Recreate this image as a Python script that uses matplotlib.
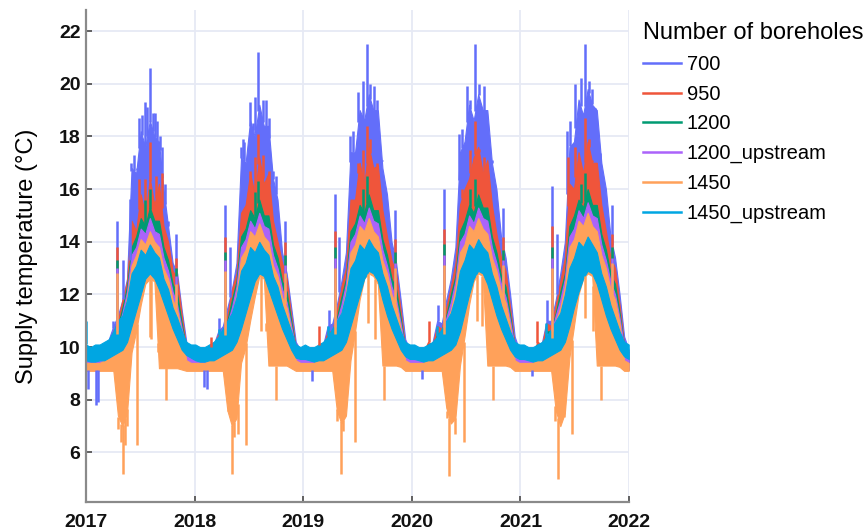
import numpy as np
import pandas as pd
import matplotlib
matplotlib.use("Agg")
import matplotlib.pyplot as plt
import matplotlib.dates as mdates
from matplotlib.lines import Line2D

plt.rcParams['font.family'] = ['Liberation Sans', 'DejaVu Sans']

# half-month steps, 24 per year, 2017-2021
dates = pd.date_range("2017-01-01", "2021-12-31", periods=120)

labels = ["700", "950", "1200", "1200_upstream", "1450", "1450_upstream"]
colors = ["#636EFA", "#EF553B", "#009B72", "#AB63FA", "#FFA15A", "#00A6E2"]

# lower envelope of 700 / 950 / 1200 / 1200_upstream (mostly hidden under the 1450 bands)
lo_inner = [
    [9.15, 9.15, 9.15, 9.15, 9.15, 9.2, 9.3, 9.5, 9.5, 9.8, 10.6, 11.3, 12.0, 12.7, 12.9, 12.8, 12.5, 11.8, 11.2, 10.8, 10.4, 9.8, 9.3, 9.15],
    [9.15, 9.15, 9.15, 9.15, 9.15, 9.2, 9.3, 9.5, 9.5, 9.8, 10.5, 11.3, 12.0, 12.6, 12.9, 12.8, 12.4, 11.8, 11.2, 10.8, 10.4, 9.8, 9.3, 9.15],
    [9.15, 9.15, 9.15, 9.15, 9.15, 9.2, 9.3, 9.5, 9.5, 9.8, 10.6, 11.4, 12.1, 12.7, 12.9, 12.9, 12.6, 11.9, 11.2, 10.8, 10.4, 9.8, 9.3, 9.15],
    [9.15, 9.15, 9.15, 9.15, 9.15, 9.2, 9.3, 9.5, 9.5, 9.8, 10.5, 11.3, 12.1, 12.7, 12.9, 12.9, 12.5, 11.9, 11.2, 10.8, 10.4, 9.8, 9.3, 9.15],
    [9.15, 9.15, 9.15, 9.15, 9.15, 9.2, 9.3, 9.5, 9.5, 9.8, 10.7, 11.5, 12.2, 12.7, 12.9, 12.9, 12.5, 11.9, 11.2, 10.8, 10.4, 9.8, 9.3, 9.15],
]

hi_700 = [
    [9.9, 9.9, 9.9, 9.9, 10.0, 10.3, 10.8, 11.2, 11.8, 12.6, 16.8, 16.6, 18.2, 17.6, 18.6, 18.0, 17.8, 16.0, 14.6, 13.2, 12.8, 11.4, 10.2, 9.9],
    [9.9, 9.9, 9.9, 10.0, 10.1, 10.6, 10.8, 11.5, 12.2, 13.2, 17.2, 17.0, 18.6, 18.0, 19.2, 18.4, 18.4, 16.4, 15.6, 13.6, 12.8, 11.5, 10.2, 9.9],
    [9.9, 9.9, 9.9, 10.0, 10.1, 10.8, 10.9, 11.6, 12.5, 13.6, 17.4, 17.4, 19.0, 18.6, 19.6, 19.0, 19.0, 16.8, 15.8, 14.0, 13.2, 11.8, 10.3, 9.9],
    [9.9, 9.9, 9.9, 10.0, 10.2, 11.0, 10.9, 11.8, 12.6, 13.8, 17.4, 17.8, 19.2, 18.6, 19.6, 19.0, 19.0, 17.0, 16.0, 14.2, 13.4, 12.0, 10.4, 9.9],
    [9.9, 9.9, 9.9, 10.0, 10.2, 11.0, 11.0, 11.8, 12.8, 14.0, 17.6, 17.8, 19.4, 18.8, 19.8, 19.2, 19.0, 17.0, 16.0, 14.2, 13.4, 12.0, 10.4, 9.9],
]
hi_950 = [
    [9.8, 9.8, 9.8, 9.9, 10.0, 10.2, 10.6, 11.0, 11.8, 12.5, 14.8, 14.4, 15.8, 15.0, 16.4, 15.4, 16.2, 14.6, 14.0, 12.9, 12.6, 11.2, 10.0, 9.8],
    [9.8, 9.8, 9.8, 10.0, 10.0, 10.5, 10.6, 11.2, 12.2, 12.8, 15.1, 15.4, 16.6, 15.8, 17.2, 16.2, 16.6, 14.8, 14.0, 13.2, 12.6, 11.2, 10.0, 9.8],
    [9.8, 9.8, 9.8, 10.1, 10.0, 10.6, 10.6, 11.4, 12.3, 13.0, 15.6, 15.6, 17.0, 16.2, 17.6, 16.8, 16.9, 15.2, 14.2, 13.3, 12.8, 11.4, 10.0, 9.8],
    [9.8, 9.8, 9.8, 10.2, 10.1, 10.8, 10.7, 11.5, 12.3, 13.2, 15.4, 16.0, 16.4, 17.2, 17.6, 16.6, 17.1, 15.4, 14.3, 13.4, 12.9, 11.5, 10.1, 9.8],
    [9.8, 9.8, 9.8, 10.2, 10.1, 10.9, 10.8, 11.6, 12.5, 13.4, 16.2, 16.0, 17.4, 16.6, 17.8, 17.0, 17.0, 15.4, 14.4, 13.4, 13.0, 11.6, 10.1, 9.8],
]
hi_1200 = [
    [9.8, 9.8, 9.8, 9.8, 9.9, 10.1, 10.4, 10.8, 11.5, 12.3, 13.8, 14.2, 14.9, 14.6, 15.3, 14.8, 14.8, 13.8, 13.3, 12.4, 12.0, 10.9, 9.9, 9.8],
    [9.8, 9.8, 9.8, 9.9, 9.9, 10.3, 10.5, 11.0, 11.8, 12.5, 14.2, 14.5, 15.2, 14.9, 15.6, 15.0, 15.0, 13.9, 13.4, 12.5, 12.1, 11.0, 9.9, 9.8],
    [9.8, 9.8, 9.8, 10.0, 9.9, 10.4, 10.5, 11.1, 11.9, 12.6, 14.4, 14.7, 15.4, 15.1, 15.8, 15.2, 15.2, 14.1, 13.5, 12.6, 12.2, 11.1, 9.9, 9.8],
    [9.8, 9.8, 9.8, 10.1, 9.9, 10.5, 10.6, 11.2, 12.0, 12.7, 14.4, 14.8, 15.4, 15.1, 15.8, 15.3, 15.3, 14.2, 13.6, 12.7, 12.3, 11.2, 10.0, 9.8],
    [9.8, 9.8, 9.8, 10.1, 9.9, 10.6, 10.6, 11.3, 12.1, 12.8, 14.6, 15.0, 15.6, 15.3, 16.0, 15.4, 15.4, 14.3, 13.7, 12.8, 12.4, 11.3, 10.0, 9.8],
]
hi_1200u = [
    [9.8, 9.8, 9.8, 9.8, 9.9, 10.0, 10.3, 10.7, 11.3, 12.1, 13.5, 13.8, 14.5, 14.3, 14.9, 14.4, 14.3, 13.4, 12.9, 12.1, 11.6, 10.7, 9.9, 9.8],
    [9.8, 9.8, 9.8, 9.8, 9.9, 10.2, 10.4, 10.9, 11.5, 12.3, 13.8, 14.1, 14.8, 14.5, 15.1, 14.6, 14.5, 13.5, 13.0, 12.2, 11.7, 10.8, 9.9, 9.8],
    [9.8, 9.8, 9.8, 9.9, 9.9, 10.3, 10.4, 11.0, 11.6, 12.4, 14.0, 14.3, 15.0, 14.7, 15.3, 14.8, 14.7, 13.7, 13.1, 12.3, 11.8, 10.9, 9.9, 9.8],
    [9.8, 9.8, 9.8, 10.0, 9.9, 10.4, 10.5, 11.1, 11.7, 12.5, 14.0, 14.3, 15.0, 14.7, 15.3, 14.9, 14.8, 13.8, 13.2, 12.4, 11.9, 11.0, 10.0, 9.8],
    [9.8, 9.8, 9.8, 10.0, 9.9, 10.5, 10.5, 11.2, 11.8, 12.6, 14.2, 14.5, 15.2, 14.9, 15.5, 15.0, 14.9, 13.9, 13.3, 12.5, 12.0, 11.1, 10.0, 9.8],
]
lo_1450 = [
    [9.1, 9.1, 9.1, 9.1, 9.1, 9.1, 9.1, 7.4, 7.0, 7.5, 9.8, 10.6, 11.6, 12.4, 12.6, 12.5, 9.2, 9.2, 9.2, 9.2, 9.2, 9.15, 9.1, 9.1],
    [9.1, 9.1, 9.1, 9.1, 9.1, 9.1, 9.1, 7.6, 7.0, 7.3, 9.4, 10.0, 11.0, 11.9, 12.7, 12.6, 9.3, 9.3, 9.3, 9.3, 9.3, 9.2, 9.1, 9.1],
    [9.1, 9.1, 9.1, 9.1, 9.1, 9.1, 9.1, 7.6, 7.1, 7.4, 9.5, 10.6, 11.8, 12.6, 12.8, 12.7, 12.4, 9.3, 9.3, 9.3, 9.3, 9.25, 9.1, 9.1],
    [9.1, 9.1, 9.1, 9.1, 9.1, 9.1, 9.1, 7.7, 7.1, 7.3, 9.3, 10.4, 11.6, 12.5, 12.8, 12.7, 9.3, 9.3, 9.3, 9.3, 9.3, 9.25, 9.1, 9.1],
    [9.1, 9.1, 9.1, 9.1, 9.1, 9.1, 9.1, 7.6, 7.0, 7.5, 9.6, 10.8, 12.0, 12.6, 12.8, 12.7, 9.3, 9.3, 9.3, 9.3, 9.3, 9.25, 9.1, 9.1],
]
hi_1450 = [
    [9.4, 9.4, 9.4, 9.4, 9.5, 9.7, 10.0, 10.6, 11.0, 11.9, 13.1, 13.5, 14.1, 13.9, 14.4, 14.0, 13.8, 13.0, 12.6, 11.8, 11.4, 10.5, 9.5, 9.4],
    [9.4, 9.4, 9.4, 9.5, 9.5, 9.9, 10.1, 10.7, 11.2, 12.0, 13.4, 13.7, 14.4, 14.2, 14.7, 14.2, 14.0, 13.1, 12.7, 11.9, 11.5, 10.6, 9.5, 9.4],
    [9.4, 9.4, 9.4, 9.6, 9.5, 10.0, 10.1, 10.8, 11.3, 12.1, 13.6, 13.9, 14.6, 14.4, 14.9, 14.4, 14.2, 13.3, 12.8, 12.0, 11.6, 10.7, 9.5, 9.4],
    [9.4, 9.4, 9.4, 9.7, 9.5, 10.0, 10.2, 10.9, 11.4, 12.2, 13.6, 13.9, 14.6, 14.4, 14.9, 14.5, 14.3, 13.4, 12.9, 12.1, 11.7, 10.8, 9.5, 9.4],
    [9.4, 9.4, 9.4, 9.7, 9.5, 10.1, 10.2, 11.0, 11.5, 12.3, 13.8, 14.1, 14.8, 14.6, 15.1, 14.6, 14.4, 13.5, 13.0, 12.2, 11.8, 10.9, 9.5, 9.4],
]
lo_1450u = [
    [9.5, 9.45, 9.45, 9.5, 9.5, 9.6, 9.7, 9.8, 9.9, 10.2, 10.8, 11.4, 12.0, 12.6, 12.8, 12.6, 12.2, 11.7, 11.2, 10.7, 10.3, 9.9, 9.7, 9.6],
    [9.5, 9.45, 9.45, 9.5, 9.5, 9.6, 9.7, 9.8, 9.9, 10.2, 10.7, 11.3, 11.9, 12.5, 12.8, 12.7, 12.2, 11.7, 11.2, 10.7, 10.3, 9.9, 9.6, 9.55],
    [9.55, 9.5, 9.45, 9.5, 9.5, 9.6, 9.7, 9.8, 9.9, 10.2, 10.8, 11.4, 12.0, 12.6, 12.9, 12.8, 12.5, 11.8, 11.2, 10.7, 10.3, 9.9, 9.65, 9.55],
    [9.55, 9.5, 9.45, 9.5, 9.5, 9.6, 9.7, 9.8, 9.9, 10.1, 10.6, 11.3, 12.0, 12.6, 12.9, 12.8, 12.4, 11.8, 11.2, 10.7, 10.3, 9.9, 9.65, 9.55],
    [9.55, 9.5, 9.45, 9.5, 9.5, 9.6, 9.7, 9.8, 9.9, 10.2, 10.8, 11.5, 12.1, 12.6, 12.9, 12.8, 12.4, 11.8, 11.2, 10.7, 10.3, 9.9, 9.65, 9.55],
]
hi_1450u = [
    [10.1, 10.0, 10.1, 10.1, 10.2, 10.3, 10.6, 11.0, 11.2, 11.8, 12.8, 13.1, 13.7, 13.5, 13.9, 13.6, 13.4, 12.6, 12.2, 11.5, 11.1, 10.6, 10.2, 10.1],
    [10.1, 10.0, 10.0, 10.1, 10.2, 10.4, 10.7, 11.0, 11.3, 11.9, 12.9, 13.2, 13.8, 13.6, 14.0, 13.7, 13.5, 12.7, 12.3, 11.6, 11.1, 10.6, 10.1, 10.0],
    [10.1, 10.0, 10.0, 10.1, 10.2, 10.4, 10.7, 11.0, 11.3, 12.0, 13.0, 13.3, 13.9, 13.7, 14.1, 13.8, 13.6, 12.8, 12.3, 11.6, 11.1, 10.6, 10.2, 10.1],
    [10.1, 10.0, 10.0, 10.1, 10.2, 10.4, 10.7, 11.0, 11.3, 11.9, 12.9, 13.3, 13.9, 13.7, 14.1, 13.8, 13.6, 12.8, 12.3, 11.6, 11.1, 10.6, 10.2, 10.1],
    [10.1, 10.0, 10.0, 10.1, 10.2, 10.4, 10.7, 11.0, 11.3, 12.0, 13.0, 13.4, 14.0, 13.8, 14.2, 13.9, 13.6, 12.8, 12.3, 11.6, 11.1, 10.6, 10.2, 10.1],
]

# short single-day excursions (date, value)
up_700 = [("2017-04-01", 11.0), ("2017-04-16", 14.8), ("2017-05-04", 13.3), ("2017-05-30", 13.3),
          ("2017-06-03", 17.0), ("2017-06-12", 17.3), ("2017-06-20", 16.8), ("2017-06-28", 18.7),
          ("2017-07-08", 18.8), ("2017-07-17", 19.3), ("2017-07-26", 19.1), ("2017-08-05", 20.6),
          ("2017-08-14", 18.9), ("2017-08-22", 18.9), ("2017-08-29", 18.6), ("2017-09-06", 18.0),
          ("2017-09-15", 17.6), ("2017-09-25", 16.2), ("2017-10-04", 14.8), ("2017-10-31", 14.3),
          ("2018-03-24", 11.1), ("2018-04-15", 15.4), ("2018-04-30", 13.8), ("2018-06-07", 17.6),
          ("2018-06-12", 17.9), ("2018-06-18", 17.8), ("2018-07-05", 19.3), ("2018-07-16", 18.5),
          ("2018-07-24", 19.5), ("2018-08-04", 21.2), ("2018-08-19", 19.4), ("2018-08-30", 19.4),
          ("2018-09-10", 18.7), ("2018-09-22", 16.7), ("2018-10-03", 16.5), ("2018-11-01", 14.8),
          ("2019-03-28", 11.4), ("2019-04-18", 15.8), ("2019-05-03", 14.2), ("2019-06-08", 18.0),
          ("2019-06-19", 18.2), ("2019-07-06", 19.7), ("2019-07-23", 20.1), ("2019-08-03", 21.5),
          ("2019-08-14", 20.0), ("2019-08-26", 19.9), ("2019-09-06", 19.4), ("2019-09-23", 17.1),
          ("2019-10-04", 16.2), ("2019-11-07", 15.2),
          ("2020-03-30", 11.6), ("2020-04-18", 16.0), ("2020-06-07", 18.1), ("2020-06-18", 18.3),
          ("2020-07-05", 19.9), ("2020-07-16", 19.4), ("2020-08-02", 21.5), ("2020-08-13", 20.0),
          ("2020-08-30", 19.9), ("2020-09-10", 19.0), ("2020-09-27", 17.1), ("2020-11-05", 15.3),
          ("2021-03-30", 11.8), ("2021-04-17", 16.1), ("2021-05-03", 14.3), ("2021-06-07", 18.2),
          ("2021-06-18", 18.6), ("2021-07-05", 20.0), ("2021-07-22", 20.2), ("2021-08-05", 21.5),
          ("2021-08-19", 20.1), ("2021-08-30", 19.8), ("2021-09-10", 18.8), ("2021-09-27", 16.9),
          ("2021-11-06", 15.4)]
down_700 = [("2017-01-07", 8.4), ("2017-02-04", 7.8), ("2017-02-09", 7.9), ("2018-02-03", 8.5),
            ("2018-02-12", 8.4), ("2019-01-31", 8.7), ("2020-02-05", 8.8), ("2021-02-08", 8.9)]
up_950 = [("2017-04-16", 13.8), ("2018-04-15", 14.2), ("2019-04-18", 14.4), ("2020-04-18", 14.5),
          ("2021-04-17", 14.6), ("2017-10-31", 13.4), ("2018-11-01", 14.0), ("2019-11-07", 14.1),
          ("2020-11-05", 14.2), ("2021-11-06", 14.3), ("2018-02-25", 10.4), ("2019-02-25", 10.8),
          ("2020-02-28", 11.0), ("2021-02-26", 11.0),
          ("2017-06-28", 16.4), ("2017-07-17", 16.4), ("2017-08-05", 17.8), ("2017-08-24", 16.5),
          ("2017-09-12", 16.6), ("2018-07-05", 16.7), ("2018-07-24", 17.2), ("2018-08-04", 18.1),
          ("2018-08-19", 17.3), ("2018-09-10", 16.7), ("2019-07-06", 17.0), ("2019-07-23", 17.5),
          ("2019-08-03", 18.4), ("2019-08-14", 17.9), ("2019-09-06", 17.0), ("2020-06-18", 16.0),
          ("2020-07-16", 17.5), ("2020-08-02", 18.6), ("2020-08-13", 17.4), ("2020-08-30", 17.2),
          ("2021-06-10", 17.2), ("2021-07-05", 17.6), ("2021-08-05", 18.7), ("2021-08-19", 17.9),
          ("2021-08-30", 17.1)]
up_1200 = [("2017-04-16", 13.3), ("2018-04-15", 13.6), ("2019-04-18", 13.8), ("2020-04-18", 13.9),
           ("2021-04-17", 13.8), ("2017-08-05", 16.0), ("2018-08-04", 16.3), ("2019-08-03", 16.5),
           ("2020-08-02", 16.4), ("2021-08-05", 16.6), ("2017-10-31", 13.0), ("2018-11-01", 13.5),
           ("2019-11-07", 13.6), ("2020-11-05", 13.7), ("2021-11-06", 13.8), ("2017-07-17", 15.6),
           ("2018-07-24", 15.9), ("2019-07-23", 16.0), ("2020-07-16", 16.0), ("2021-07-22", 16.2)]
up_1200u = [("2017-04-16", 13.0), ("2018-04-15", 13.3), ("2019-04-18", 13.4), ("2020-04-18", 13.5),
            ("2021-04-17", 13.4), ("2017-10-31", 12.7), ("2018-11-01", 13.1), ("2019-11-07", 13.2),
            ("2020-11-05", 13.3), ("2021-11-06", 13.4)]
up_1450 = [("2017-04-16", 12.8), ("2018-04-15", 12.9), ("2019-04-18", 13.0), ("2020-04-18", 13.1),
           ("2021-04-17", 13.0), ("2017-10-31", 12.4), ("2018-11-01", 12.8), ("2019-11-07", 13.0),
           ("2020-11-05", 13.1), ("2021-11-06", 13.2)]
down_1450 = [("2017-04-20", 6.9), ("2017-04-30", 6.4), ("2017-05-05", 5.2), ("2017-05-13", 6.3),
             ("2017-05-20", 7.0), ("2017-06-23", 6.3), ("2017-08-04", 10.4), ("2017-08-09", 10.3),
             ("2017-08-30", 9.8), ("2017-09-27", 8.0),
             ("2018-04-22", 7.6), ("2018-05-06", 5.2), ("2018-05-14", 6.6), ("2018-05-26", 6.7),
             ("2018-06-24", 6.3), ("2018-08-11", 10.6), ("2018-08-30", 10.6), ("2018-10-01", 8.0),
             ("2019-04-24", 7.2), ("2019-05-07", 5.2), ("2019-05-16", 6.8), ("2019-06-25", 6.4),
             ("2019-08-09", 10.9), ("2019-08-31", 10.3), ("2019-10-01", 8.0),
             ("2020-04-30", 7.3), ("2020-05-07", 5.1), ("2020-05-27", 6.7), ("2020-06-24", 6.4),
             ("2020-08-09", 11.0), ("2020-08-26", 10.8), ("2020-10-01", 8.0),
             ("2021-04-28", 7.2), ("2021-05-07", 5.0), ("2021-05-26", 8.4), ("2021-06-23", 6.7),
             ("2021-08-07", 11.1), ("2021-09-01", 10.6), ("2021-09-30", 8.0)]
up_1450u = [("2017-01-01", 11.0), ("2017-03-28", 10.5), ("2018-03-24", 10.7), ("2019-03-26", 10.8),
            ("2020-03-28", 10.8), ("2021-03-28", 10.9)]

series = [
    (labels[0], lo_inner, hi_700, up_700, down_700, colors[0]),
    (labels[1], lo_inner, hi_950, up_950, [], colors[1]),
    (labels[2], lo_inner, hi_1200, up_1200, [], colors[2]),
    (labels[3], lo_inner, hi_1200u, up_1200u, [], colors[3]),
    (labels[4], lo_1450, hi_1450, up_1450, down_1450, colors[4]),
    (labels[5], lo_1450u, hi_1450u, up_1450u, [], colors[5]),
]

fig = plt.figure(figsize=(8.64, 5.32), dpi=100)
ax = fig.add_axes([0.0995, 0.0564, 0.6285, 0.9248])

xnum = mdates.date2num(dates)
handles = []
for name, lo, hi, up, down, c in series:
    lo = np.ravel(lo)
    hi = np.ravel(hi)
    ax.fill_between(dates, lo, hi, color=c, lw=0.8, edgecolor=c)
    if up:
        d = mdates.date2num(pd.to_datetime([s[0] for s in up]))
        ax.vlines(d, np.interp(d, xnum, hi), [s[1] for s in up], color=c, lw=1.8)
    if down:
        d = mdates.date2num(pd.to_datetime([s[0] for s in down]))
        ax.vlines(d, [s[1] for s in down], np.interp(d, xnum, lo), color=c, lw=1.8)
    handles.append(Line2D([], [], color=c, lw=1.8, label=name))

ax.set_xlim(pd.Timestamp("2017-01-01"), pd.Timestamp("2022-01-01"))
ax.set_ylim(4.12, 22.8)
years = list(range(2017, 2023))
ax.set_xticks([pd.Timestamp(f"{y}-01-01") for y in years])
ax.set_xticklabels([str(y) for y in years])
ax.set_yticks(range(6, 23, 2))

ax.grid(True, color="#E6E9F4", lw=1.3)
ax.set_axisbelow(True)
for s in ["top", "right"]:
    ax.spines[s].set_visible(False)
for s in ["left", "bottom"]:
    ax.spines[s].set_color("#8A8A8A")
    ax.spines[s].set_linewidth(1.6)
ax.tick_params(axis="both", direction="in", length=4, width=1.3, color="#555555",
               labelsize=14, labelcolor="#111111")
ax.tick_params(axis="x", pad=9)
ax.tick_params(axis="y", pad=4)
for t in ax.get_xticklabels() + ax.get_yticklabels():
    t.set_fontweight("bold")

ax.set_ylabel("Supply temperature (°C)", fontsize=17, labelpad=15)

leg = fig.legend(handles=handles, title="Number of boreholes", loc="upper left",
                 bbox_to_anchor=(0.733, 0.977), frameon=False, fontsize=14.5,
                 title_fontsize=17, handlelength=1.85, handletextpad=0.3,
                 labelspacing=0.53, borderpad=0, alignment="left")

fig.savefig("out.png", dpi=100)
